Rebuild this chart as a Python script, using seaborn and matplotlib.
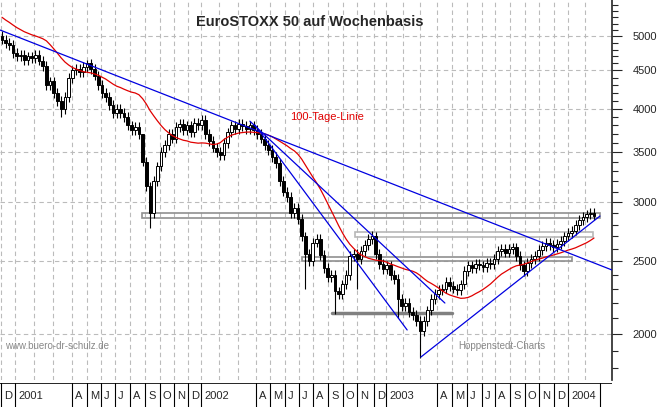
import numpy as np
import pandas as pd
import matplotlib
matplotlib.use("Agg")
import matplotlib.pyplot as plt
import seaborn as sns

# weekly closes (EuroSTOXX 50), Dec 2000 .. Jan 2004
closes = [4950,4900,4870,4750,4700,4720,4650,4700,4680,4720,4640,4560,4300,4350,4200,4100,
          4000,4150,4400,4500,4520,4480,4550,4600,4520,4430,4300,4200,4150,4050,3950,4000,
          3950,3900,3800,3750,3780,3700,3400,3150,2900,3200,3350,3500,3580,3700,3650,3780,
          3820,3750,3800,3720,3830,3800,3860,3700,3620,3550,3500,3470,3600,3720,3800,3760,
          3820,3790,3760,3800,3750,3700,3650,3580,3520,3450,3380,3200,3100,3050,2900,2950,
          2850,2700,2560,2500,2650,2680,2550,2450,2380,2400,2280,2260,2330,2400,2540,2560,
          2520,2580,2630,2680,2700,2560,2480,2440,2470,2400,2370,2230,2180,2200,2140,2120,
          2080,2020,2080,2150,2230,2260,2290,2300,2350,2320,2300,2290,2330,2430,2470,2450,
          2480,2470,2460,2490,2480,2520,2580,2600,2570,2600,2610,2540,2470,2430,2490,2520,
          2540,2590,2620,2650,2630,2610,2640,2660,2700,2730,2750,2800,2840,2870,2890,2900,2880]
first_open = 5000
prior_closes = [5500, 5450, 5400, 5350, 5300, 5250, 5200]  # weeks before the chart, for the average
long_lows = {16: 3900, 40: 2770, 82: 2300, 90: 2130, 113: 1860, 107: 2100, 96: 2300}
long_highs = {100: 2750, 38: 3650, 23: 4650}

# annotation lines (week index, value)
trend_down_long = ([-0.5, 164.9], [5096, 2435])
trend_down_a = ([68.4, 109.5], [3804, 2025])
trend_down_b = ([67.0, 119.7], [3850, 2200])
trend_up = ([113.2, 161.6], [1863, 2875])
zones = [(37.8, 161.6, 2858, 2902, "#909090"),
         (95.4, 159.7, 2697, 2737, "#b8b8b8"),
         (81.0, 154.0, 2503, 2535, "#909090")]
support_line = (89.2, 121.6, 2133)

yticks = [2000, 2500, 3000, 3500, 4000, 4500, 5000]
month_labels = ["D", "2001", "A", "M", "J", "J", "A", "S", "O", "N", "D", "2002",
                "A", "M", "J", "J", "A", "S", "O", "N", "D", "2003",
                "A", "M", "J", "J", "A", "S", "O", "N", "D", "2004"]
month_px = [1, 15, 72, 87, 101, 115, 130, 145, 160, 174, 188, 201,
            256, 270, 285, 299, 313, 328, 343, 357, 374, 386,
            437, 452, 467, 482, 495, 510, 525, 539, 554, 568]
grid_px = [1, 15, 34, 53, 72, 87, 101, 115, 130, 145, 160, 174, 188, 201, 219, 238,
           256, 270, 285, 299, 313, 328, 343, 357, 374, 386, 403, 420,
           437, 452, 467, 482, 495, 510, 525, 539, 554, 568, 585]

n = len(closes)
idx = np.arange(n)
opens = [first_open] + closes[:-1]
highs = [long_highs.get(i, max(o, c) * 1.015) for i, (o, c) in enumerate(zip(opens, closes))]
lows = [long_lows.get(i, min(o, c) * 0.985) for i, (o, c) in enumerate(zip(opens, closes))]
ext = pd.Series(prior_closes + closes)
ma = ext.rolling(20, min_periods=1).mean().iloc[len(prior_closes):].values
df = pd.DataFrame({"week": idx, "open": opens, "close": closes, "high": highs, "low": lows, "ma": ma})

def px2i(p):
    return (p - 2) / 3.7

sns.set_style("white")
plt.rcParams["font.family"] = "Liberation Sans"
fig = plt.figure(figsize=(6.59, 4.07), dpi=100)
ax = fig.add_axes([0, 27 / 407, 612 / 659, 380 / 407])
ax.set_yscale("log")
xl = (px2i(0), px2i(612))
ax.set_xlim(*xl)
ax.set_ylim(1736, 5590)

for p in grid_px:
    ax.axvline(px2i(p), color="#bbbbbb", ls=(0, (4, 3)), lw=0.8, zorder=0)
for t in yticks:
    ax.axhline(t, color="#bbbbbb", ls=(0, (4, 3)), lw=0.8, zorder=0)

# candles
ax.vlines(df.week, df.low, df.high, color="black", lw=0.8, zorder=3)
up = df[df.close >= df.open]
dn = df[df.close < df.open]
ax.bar(up.week, up.close - up.open, bottom=up.open, width=0.75, color="white",
       edgecolor="black", lw=0.7, zorder=4)
ax.bar(dn.week, dn.open - dn.close, bottom=dn.close, width=0.75, color="black",
       edgecolor="black", lw=0.7, zorder=4)

sns.lineplot(data=df, x="week", y="ma", color="#e00000", lw=0.9, ax=ax, zorder=5)

for xs, ys in [trend_down_long, trend_down_a, trend_down_b, trend_up]:
    ax.plot(xs, ys, color="#0000e0", lw=0.9, zorder=6)
for x0, x1, y0, y1, col in zones:
    ax.add_patch(plt.Rectangle((x0, y0), x1 - x0, y1 - y0, fill=False, ec=col, lw=1.2, zorder=2))
ax.plot([support_line[0], support_line[1]], [support_line[2]] * 2, color="#808080", lw=2.5, zorder=2)

ax.set_xlabel("")
ax.set_ylabel("")
ax.yaxis.tick_right()
ax.set_yticks(yticks)
ax.set_yticklabels([str(t) for t in yticks], fontsize=8)
ax.set_yticks(np.arange(1800, 5600, 100), minor=True)
ax.yaxis.set_minor_formatter(matplotlib.ticker.NullFormatter())
ax.tick_params(axis="y", which="major", length=7, width=0.8, pad=8, right=True, left=False)
ax.tick_params(axis="y", which="minor", length=4, width=0.8, right=True, left=False)
ax.set_xticks([px2i(p) for p in grid_px])
ax.set_xticklabels([])
ax.tick_params(axis="x", length=3, width=0.6, color="#999999", direction="out")
for s in ["top", "left"]:
    ax.spines[s].set_visible(False)
ax.spines["right"].set_linewidth(1.2)
ax.spines["bottom"].set_visible(False)

ax.text(px2i(310), 4900 * 1.065, "EuroSTOXX 50 auf Wochenbasis", ha="center", va="center",
        fontsize=10.5, fontweight="bold")
ax.text(px2i(290), 3900, "100-Tage-Linie", color="#e00000", fontsize=8, va="center")
ax.text(px2i(5), 1930, "www.buero-dr-schulz.de", color="#888888", fontsize=7, va="center")
ax.text(px2i(458), 1930, "Hoppenstedt-Charts", color="#888888", fontsize=7, va="center")

# month strip
sx = fig.add_axes([0, 0, 612 / 659, 24 / 407])
sx.set_xlim(*xl)
sx.set_ylim(0, 1)
for p, lab in zip(month_px, month_labels):
    sx.axvline(px2i(p), color="black", lw=0.8)
    sx.text(px2i(p + 3), 0.45, lab, fontsize=8, va="center", ha="left")
sx.axvline(px2i(600), color="black", lw=0.8)
sx.set_xticks([]); sx.set_yticks([])
for s in sx.spines.values():
    s.set_visible(False)
sx.axhline(1, color="black", lw=1.2)

fig.savefig("out.png", dpi=100)
